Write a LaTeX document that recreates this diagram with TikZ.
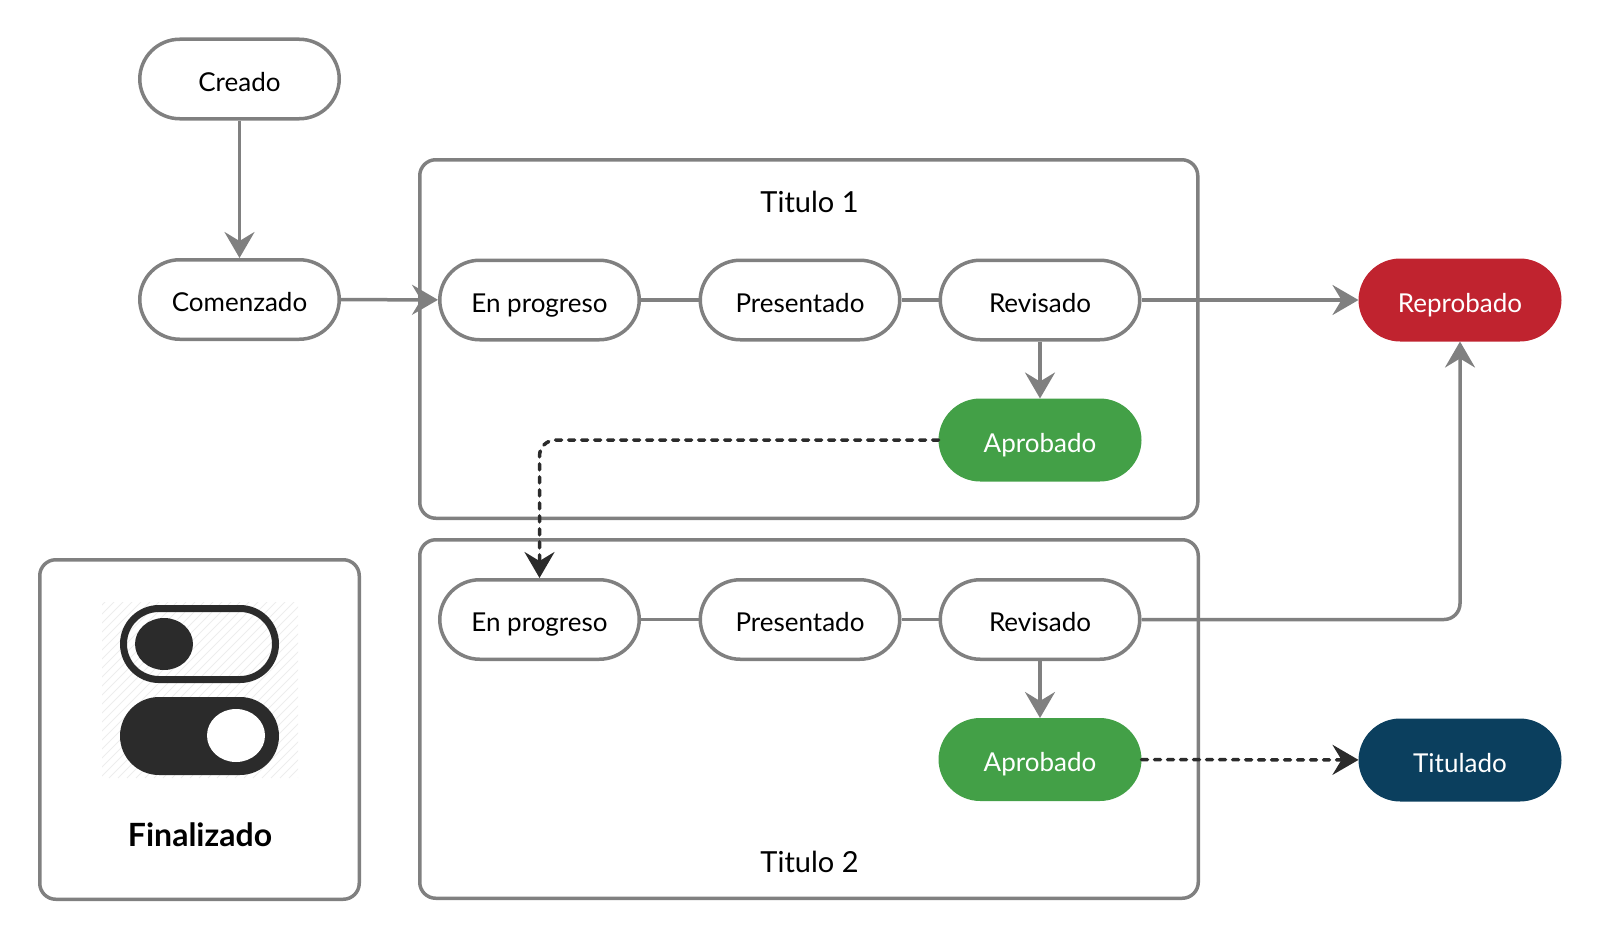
\documentclass[tikz,border=0pt]{standalone}
\usepackage{fontspec}
\setmainfont{Lato}
\usetikzlibrary{positioning, shapes, arrows.meta, calc}

\definecolor{linegray}{HTML}{808080}
\definecolor{okgreen}{HTML}{43A047}
\definecolor{failred}{HTML}{C0232F}
\definecolor{donenavy}{HTML}{0B3F5E}
\definecolor{inkdark}{HTML}{2B2B2B}

\tikzset{
  estado/.style={rectangle, rounded corners=40pt, draw=linegray, line width=3.5pt,
    fill=white, minimum width=199.5pt, minimum height=79.5pt, inner sep=0pt,
    text height=24pt, text depth=0pt, font=\fontsize{26}{31}\selectfont},
  lleno/.style={estado, draw=#1, fill=#1, text=white},
  marco/.style={draw=linegray, line width=3.5pt, rounded corners=16pt},
  enlace/.style={draw=linegray, line width=3.5pt},
  flecha/.style={enlace, -{Stealth[length=26pt, width=30pt, inset=9pt]}},
  salto/.style={draw=inkdark, line width=3.5pt, line cap=round, dash pattern=on 6pt off 7pt,
    rounded corners=16pt, -{Stealth[length=26pt, width=30pt, inset=9pt]}},
  titulo/.style={anchor=base, font=\fontsize{29}{34}\selectfont}
}

\begin{document}
\begin{tikzpicture}[x=1pt, y=-1pt]
  \useasboundingbox (0,0) rectangle (1600,942);

  % Frames
  \draw[marco] (419.75,159.75) rectangle (1197.75,518.25);
  \draw[marco] (419.75,539.75) rectangle (1198.25,898.25);
  \draw[marco] (39.75,559.75) rectangle (359.25,899.25);
  \node[titulo] (t1) at (809.5,212) {Titulo 1};
  \node[titulo] (t2) at (809.5,872) {Titulo 2};

  % Nodes
  \node[estado] (creado) at (239.5,79) {Creado};
  \node[estado] (comenzado) at (239.5,299.5) {Comenzado};
  \node[lleno=failred] (reprobado) at (1460,300) {Reprobado};
  \node[lleno=donenavy] (titulado) at (1460,760) {Titulado};

  \foreach \r/\y in {1/300, 2/619.5} {
    \node[estado] (ep\r) at (539.5,\y) {En progreso};
    \node[estado] (pr\r) at (800,\y) {Presentado};
    \node[estado] (rv\r) at (1040,\y) {Revisado};
    \node[lleno=okgreen] (ap\r) at (1040,\y+140) {Aprobado};
    \draw[enlace] (ep\r) -- (pr\r);
    \draw[enlace] (pr\r) -- (rv\r);
    \draw[flecha] (rv\r) -- (ap\r);
  }

  % Arrows
  \draw[flecha] (creado) -- (comenzado);
  \draw[flecha] (comenzado) -- (ep1);
  \draw[flecha] (rv1) -- (reprobado);
  \draw[flecha, rounded corners=16pt] (rv2.east) -| (reprobado.south);
  \draw[salto] (ap1.west) -| (ep2.north);
  \draw[salto] (ap2) -- (titulado);

  % Toggle icon
  \begin{scope}
    \clip (102,602) rectangle (298,778);
    \foreach \k in {0,...,44}
      \draw[black!7, line width=0.8pt] (-80+\k*9,778) -- ++(180,-180);
  \end{scope}
  \draw[inkdark, line width=7pt, rounded corners=35.5pt] (123.5,608.5) rectangle (275.5,679.5);
  \fill[inkdark] (164,644) ellipse [x radius=29, y radius=26];
  \fill[inkdark, rounded corners=39pt] (120,697) rectangle (279,775);
  \fill[white] (236,735.5) ellipse [x radius=29, y radius=26.5];
  \node[anchor=base, font=\fontsize{32}{38}\selectfont\bfseries] (fin) at (200,846) {Finalizado};
\end{tikzpicture}
\end{document}
